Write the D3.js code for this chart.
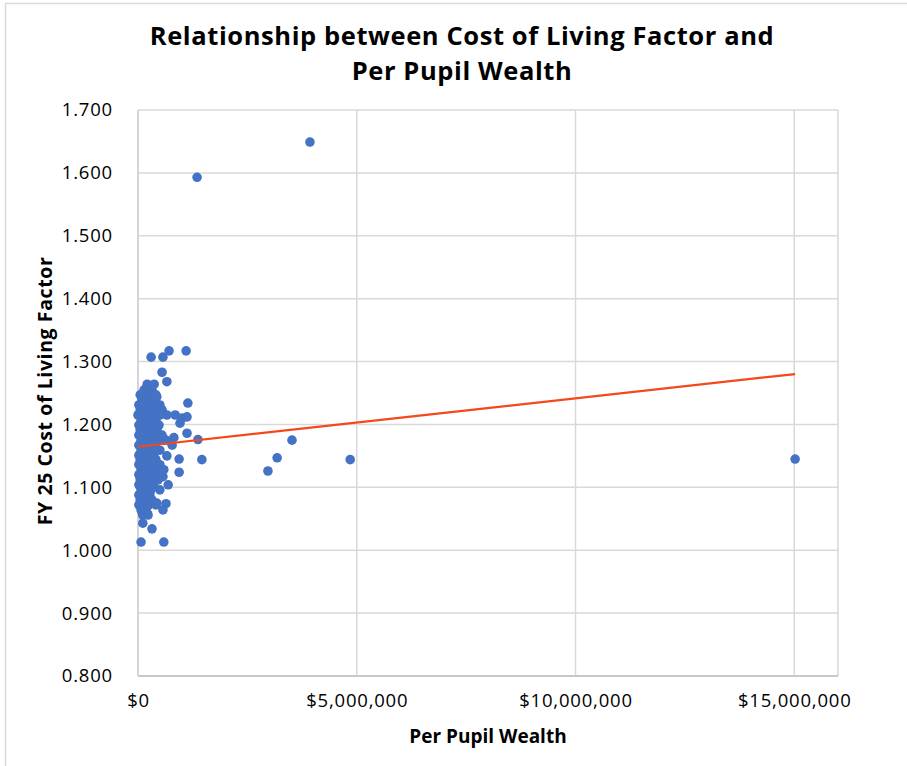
<!DOCTYPE html>
<html><head><meta charset="utf-8">
<script src="https://cdn.jsdelivr.net/npm/d3@7"></script>
<style>
html,body{margin:0;padding:0;background:#fff;}
svg{display:block;}
text{font-family:"Open Sans","DejaVu Sans",sans-serif;fill:#000;}
</style></head>
<body>
<svg id="chart" width="907" height="766"></svg>
<script>
// ---- Data (Per Pupil Wealth in $ millions, Cost of Living Factor) ----
const title = ["Relationship between Cost of Living Factor and", "Per Pupil Wealth"];
const xTitle = "Per Pupil Wealth";
const yTitle = "FY 25 Cost of Living Factor";
const xTicks = [0, 5000000, 10000000, 15000000];
const yTicks = [0.8, 0.9, 1.0, 1.1, 1.2, 1.3, 1.4, 1.5, 1.6, 1.7];

// wealth values (millions of dollars)
const wealthM = [
  // scattered points
  1.35, 3.93, 2.97, 3.18, 3.52, 4.85, 15.02, 1.46, 1.37,
  0.30, 0.57, 0.71, 1.10, 0.55, 0.66, 0.21, 0.37, 0.11, 0.27, 0.43,
  1.14, 0.55, 0.66, 0.85, 1.01, 1.12, 0.96, 0.46, 1.12, 0.82,
  0.78, 0.66, 0.94, 0.94, 0.57, 0.69, 0.43, 0.64, 0.57, 0.09,
  0.21, 0.11, 0.32, 0.07, 0.59,
  // dense column
  0.14, 0.23, 0.32,
  0.05, 0.18, 0.27, 0.41,
  0.09, 0.23, 0.36,
  0.02, 0.14, 0.27, 0.41, 0.50,
  0.05, 0.18, 0.32, 0.46,
  0.00, 0.11, 0.23, 0.36, 0.50,
  0.07, 0.18, 0.30, 0.41,
  0.02, 0.14, 0.25, 0.36, 0.48,
  0.05, 0.18, 0.30, 0.43,
  0.02, 0.11, 0.23, 0.36, 0.55,
  0.07, 0.18, 0.30, 0.46, 0.64,
  0.02, 0.14, 0.25, 0.39,
  0.07, 0.18, 0.32, 0.50,
  0.02, 0.11, 0.23, 0.36,
  0.05, 0.16, 0.27, 0.41,
  0.02, 0.11, 0.23, 0.34, 0.50,
  0.07, 0.18, 0.30, 0.43, 0.59,
  0.02, 0.14, 0.25, 0.39,
  0.05, 0.18, 0.30, 0.46,
  0.02, 0.11, 0.23, 0.36,
  0.07, 0.18, 0.30, 0.50,
  0.02, 0.14, 0.27,
  0.05, 0.18, 0.32,
  0.02, 0.11, 0.25, 0.41,
  0.07, 0.18,
  0.11, 0.23
];
const colFactor = [
  1.593, 1.649, 1.126, 1.147, 1.175, 1.144, 1.145, 1.144, 1.176,
  1.307, 1.307, 1.317, 1.317, 1.283, 1.268, 1.264, 1.264, 1.244, 1.244, 1.244,
  1.234, 1.223, 1.215, 1.215, 1.210, 1.212, 1.202, 1.186, 1.186, 1.179,
  1.167, 1.150, 1.145, 1.124, 1.117, 1.104, 1.075, 1.074, 1.064, 1.061,
  1.059, 1.043, 1.034, 1.013, 1.013,
  1.255, 1.255, 1.255,
  1.247, 1.247, 1.247, 1.247,
  1.239, 1.239, 1.239,
  1.231, 1.231, 1.231, 1.231, 1.231,
  1.223, 1.223, 1.223, 1.223,
  1.215, 1.215, 1.215, 1.215, 1.215,
  1.207, 1.207, 1.207, 1.207,
  1.199, 1.199, 1.199, 1.199, 1.199,
  1.191, 1.191, 1.191, 1.191,
  1.183, 1.183, 1.183, 1.183, 1.183,
  1.175, 1.175, 1.175, 1.175, 1.175,
  1.167, 1.167, 1.167, 1.167,
  1.159, 1.159, 1.159, 1.159,
  1.151, 1.151, 1.151, 1.151,
  1.144, 1.144, 1.144, 1.144,
  1.136, 1.136, 1.136, 1.136, 1.136,
  1.128, 1.128, 1.128, 1.128, 1.128,
  1.120, 1.120, 1.120, 1.120,
  1.112, 1.112, 1.112, 1.112,
  1.104, 1.104, 1.104, 1.104,
  1.096, 1.096, 1.096, 1.096,
  1.088, 1.088, 1.088,
  1.080, 1.080, 1.080,
  1.072, 1.072, 1.072, 1.072,
  1.064, 1.064,
  1.056, 1.056
];
// linear trendline
const trendIntercept = 1.1645;
const trendSlopePerMillion = 0.00770;

// ---- Layout ----
const svg = d3.select("#chart");
const L = 138, R = 838, T = 110, B = 676;
const x = d3.scaleLinear().domain([0, 16000000]).range([L, R]);
const y = d3.scaleLinear().domain([0.8, 1.7]).range([B, T]);
const tickFont = '"Open Sans","DejaVu Sans",sans-serif';

// outer chart border (top/left visible)
svg.append("rect").attr("x", 5.5).attr("y", 3.5).attr("width", 1000).attr("height", 1000)
  .attr("fill", "none").attr("stroke", "#d9d9d9").attr("stroke-width", 1.5);

// gridlines
svg.append("g").selectAll("line").data(yTicks).join("line")
  .attr("x1", L).attr("x2", R).attr("y1", d => y(d)).attr("y2", d => y(d))
  .attr("stroke", "#d9d9d9").attr("stroke-width", 1.5);
svg.append("g").selectAll("line").data(xTicks).join("line")
  .attr("x1", d => x(d)).attr("x2", d => x(d)).attr("y1", T).attr("y2", B)
  .attr("stroke", "#d9d9d9").attr("stroke-width", 1.5);
svg.append("line").attr("x1", R).attr("x2", R).attr("y1", T).attr("y2", B)
  .attr("stroke", "#d9d9d9").attr("stroke-width", 1.5);
svg.append("line").attr("x1", L).attr("x2", R).attr("y1", B).attr("y2", B)
  .attr("stroke", "#bfbfbf").attr("stroke-width", 1.5);
svg.append("line").attr("x1", L).attr("x2", L).attr("y1", T).attr("y2", B)
  .attr("stroke", "#d0d0d0").attr("stroke-width", 1.5);

// axis labels via d3 axes
const yAxis = d3.axisLeft(y).tickValues(yTicks).tickFormat(d3.format(".3f")).tickSize(0).tickPadding(25);
const gy = svg.append("g").attr("transform", `translate(${L},0)`).call(yAxis);
gy.select(".domain").remove();
gy.selectAll("text").attr("font-size", 18.5).attr("fill", "#000")
  .style("font-family", tickFont).style("letter-spacing", "0.8px");

const xAxis = d3.axisBottom(x).tickValues(xTicks).tickFormat(d => "$" + d3.format(",")(d)).tickSize(0).tickPadding(18);
const gx = svg.append("g").attr("transform", `translate(0,${B})`).call(xAxis);
gx.select(".domain").remove();
gx.selectAll("text").attr("font-size", 18.5).attr("fill", "#000")
  .style("font-family", tickFont).style("letter-spacing", "0.8px");

// points
const pts = wealthM.map((w, i) => ({w: w * 1e6, f: colFactor[i]}));
svg.append("g").selectAll("circle").data(pts).join("circle")
  .attr("cx", d => x(d.w)).attr("cy", d => y(d.f)).attr("r", 4.8)
  .attr("fill", "#4472c4");

// trendline across the data range
const xs = d3.extent(pts, d => d.w);
svg.append("line")
  .attr("x1", x(xs[0])).attr("y1", y(trendIntercept + trendSlopePerMillion * xs[0] / 1e6))
  .attr("x2", x(xs[1])).attr("y2", y(trendIntercept + trendSlopePerMillion * xs[1] / 1e6))
  .attr("stroke", "#f4471a").attr("stroke-width", 2.2);

// titles
svg.append("g").selectAll("text").data(title).join("text")
  .attr("x", 462).attr("y", (d, i) => 45 + i * 35)
  .attr("text-anchor", "middle").attr("font-size", 25.5).attr("font-weight", "bold")
  .style("letter-spacing", "0.6px")
  .text(d => d);
svg.append("text").attr("x", (L + R) / 2).attr("y", 743).attr("text-anchor", "middle")
  .attr("font-size", 19).attr("font-weight", "bold").text(xTitle);
svg.append("text").attr("transform", `translate(52,${(T + B) / 2 - 2}) rotate(-90)`)
  .attr("text-anchor", "middle").attr("font-size", 19.5).attr("font-weight", "bold")
  .style("letter-spacing", "0.6px").text(yTitle);
</script>
</body></html>
